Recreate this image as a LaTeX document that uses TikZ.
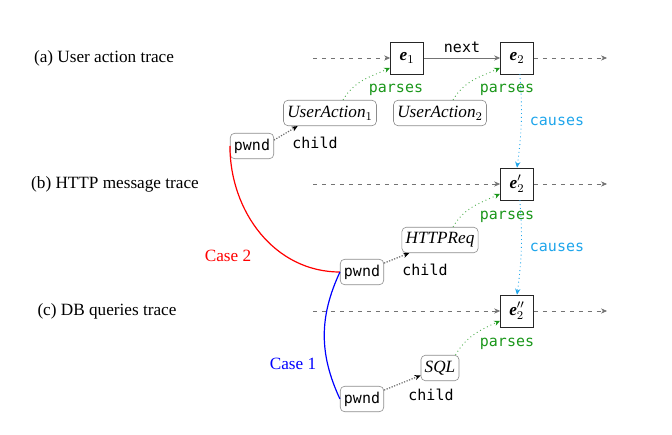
\documentclass[tikz,border=0pt]{standalone}
\usepackage{fontspec}
\setmainfont{Liberation Serif}
\setmonofont{DejaVu Sans Mono}
\usepackage{amsmath}
\usetikzlibrary{arrows.meta}
\definecolor{parsegreen}{RGB}{25,150,25}
\definecolor{causeblue}{RGB}{30,165,235}
\newcommand{\serifsize}{\fontsize{11.5}{13.5}\selectfont}

\begin{document}
\begin{tikzpicture}[x=0.0235cm, y=0.0235cm, font=\serifsize,
    ev/.style={draw=black!85, minimum width=0.78cm, minimum height=0.75cm, inner sep=0pt},
    obj/.style={draw=black!45, rounded corners=3pt, inner sep=2.5pt, minimum height=0.6cm},
    tip/.style={-{Stealth[length=4pt,width=3.5pt]}},
    trace/.style={draw=black!55, dashed, tip},
    nextline/.style={draw=black!55, tip},
    child/.style={draw=black!60, densely dotted, thick, -{Stealth[length=4pt,width=3.5pt,color=black]}},
    parse/.style={draw=parsegreen!80, dotted, semithick, -{Stealth[length=4pt,width=3.5pt,color=parsegreen]}},
    cause/.style={draw=causeblue, dotted, semithick, -{Stealth[length=4pt,width=3.5pt]}},
    lbl/.style={font=\normalsize\ttfamily},
    plbl/.style={lbl, text=parsegreen},
    clbl/.style={lbl, text=causeblue},
    casecurve/.style={line width=0.8pt}]
    \useasboundingbox (0,0) rectangle (672,-435);

    \node at (104,-58) (ta) {(a) User action trace};
    \node at (115,-184) (tb) {(b) HTTP message trace};
    \node at (107,-311) (tc) {(c) DB queries trace};

    \node[ev] at (407,-58) (e1) {\textbf{\textit{e}}$_1$};
    \node[ev] at (517,-58) (e2) {\textbf{\textit{e}}$_2$};
    \node[ev] at (517,-184) (e2p) {\textbf{\textit{e}}$'_2$};
    \node[ev] at (517,-311) (e2pp) {\textbf{\textit{e}}$''_2$};

    \coordinate (a0) at (313,-58);
    \coordinate (a1) at (607,-58);
    \coordinate (b0) at (313,-184);
    \coordinate (b1) at (607,-184);
    \coordinate (c0) at (313,-311);
    \coordinate (c1) at (607,-311);

    \draw[trace] (a0) -- (e1);
    \draw[trace] (e2) -- (a1);
    \draw[trace] (b0) -- (e2p);
    \draw[trace] (e2p) -- (b1);
    \draw[trace] (c0) -- (e2pp);
    \draw[trace] (e2pp) -- (c1);
    \draw[nextline] (e1) -- node[above, lbl] (nx) {next} (e2);

    \node[obj] at (330,-113) (ua1) {\textit{UserAction}$_1$};
    \node[obj] at (440,-113) (ua2) {\textit{UserAction}$_2$};
    \node[obj] at (440,-240) (http) {\textit{HTTPReq}};
    \node[obj] at (440,-368) (sql) {\textit{SQL}};
    \node[obj, lbl] at (252,-146) (pa) {pwnd};
    \node[obj, lbl] at (362,-272) (pb) {pwnd};
    \node[obj, lbl] at (362,-399) (pc) {pwnd};

    \draw[child] (pa.15) -- (ua1.-158);
    \draw[child] (pb.22) -- (http.-157);
    \draw[child] (pc.22) -- (sql.-159);
    \node[lbl] at (315,-143) (cha) {child};
    \node[lbl] at (425,-270) (chb) {child};
    \node[lbl] at (431,-395) (chc) {child};

    \draw[parse] (ua1.45) to[out=60, in=205] (e1.-150);
    \draw[parse] (ua2.45) to[out=60, in=205] (e2.-150);
    \draw[parse] (http.45) to[out=60, in=205] (e2p.-150);
    \draw[parse] (sql.40) to[out=60, in=205] (e2pp.-150);
    \node[plbl] at (396,-90) (pra) {parses};
    \node[plbl] at (507,-90) (prb) {parses};
    \node[plbl] at (507,-217) (prc) {parses};
    \node[plbl] at (507,-344) (prd) {parses};

    \draw[cause] (e2.-80) to[bend left=6] (e2p.north);
    \draw[cause] (e2p.-80) to[bend left=6] (e2pp.north);
    \node[clbl] at (557,-121) (csa) {causes};
    \node[clbl] at (557,-247) (csb) {causes};

    \draw[red, casecurve] (pa.west) to[out=-90, in=180] (pb.west);
    \draw[blue, casecurve] (pb.west) to[out=-115, in=115] (pc.west);
    \node[text=red] at (228,-256) (case2) {Case 2};
    \node[text=blue] at (293,-364) (case1) {Case 1};
\end{tikzpicture}
\end{document}
